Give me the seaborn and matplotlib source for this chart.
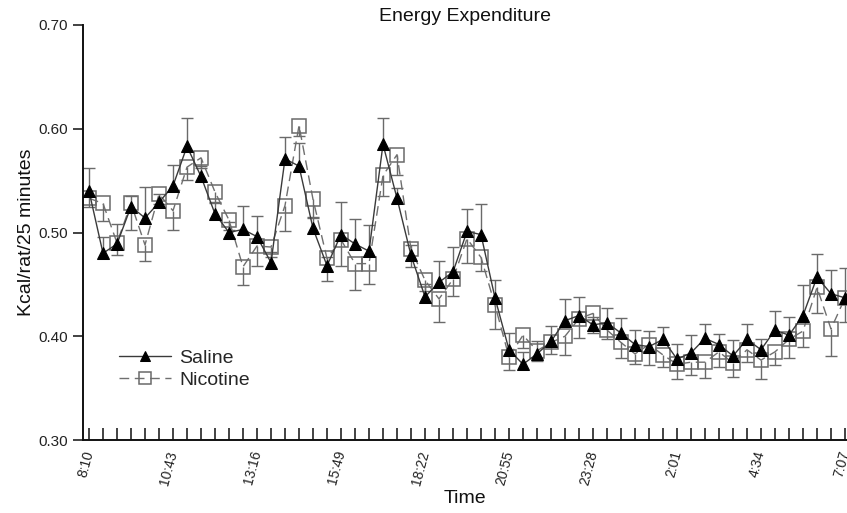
import numpy as np
import pandas as pd
import matplotlib
matplotlib.use("Agg")
import matplotlib.pyplot as plt
import seaborn as sns

# ---- data ----
time_labels = ['8:10', '10:43', '13:16', '15:49', '18:22', '20:55', '23:28', '2:01', '4:34', '7:07']

saline = [0.540, 0.480, 0.489, 0.525, 0.514, 0.529, 0.545, 0.583, 0.554, 0.518,
          0.500, 0.503, 0.496, 0.471, 0.571, 0.564, 0.504, 0.468, 0.498, 0.489,
          0.482, 0.585, 0.533, 0.478, 0.438, 0.452, 0.462, 0.501, 0.498, 0.437,
          0.387, 0.373, 0.383, 0.395, 0.415, 0.420, 0.411, 0.413, 0.403, 0.392,
          0.390, 0.397, 0.378, 0.384, 0.398, 0.392, 0.381, 0.397, 0.387, 0.406,
          0.401, 0.420, 0.457, 0.441, 0.437]
saline_err = [0.022, 0.016, 0.019, 0.010, 0.030, 0.008, 0.020, 0.027, 0.010, 0.010,
              0.010, 0.023, 0.020, 0.010, 0.021, 0.022, 0.010, 0.008, 0.031, 0.024,
              0.025, 0.025, 0.010, 0.010, 0.012, 0.021, 0.024, 0.022, 0.029, 0.017,
              0.016, 0.012, 0.012, 0.015, 0.021, 0.018, 0.008, 0.014, 0.015, 0.014,
              0.015, 0.012, 0.015, 0.017, 0.014, 0.010, 0.015, 0.015, 0.010, 0.018,
              0.018, 0.029, 0.022, 0.023, 0.029]

nicotine = [0.533, 0.528, 0.490, 0.528, 0.488, 0.537, 0.521, 0.563, 0.572, 0.539,
            0.512, 0.467, 0.487, 0.486, 0.526, 0.603, 0.532, 0.475, 0.493, 0.470,
            0.470, 0.555, 0.575, 0.484, 0.454, 0.436, 0.455, 0.494, 0.476, 0.430,
            0.380, 0.401, 0.386, 0.394, 0.400, 0.417, 0.422, 0.406, 0.394, 0.383,
            0.392, 0.382, 0.373, 0.375, 0.375, 0.385, 0.374, 0.387, 0.377, 0.385,
            0.397, 0.405, 0.447, 0.407, 0.437]
nicotine_err = [0.008, 0.017, 0.012, 0.026, 0.015, 0.010, 0.019, 0.012, 0.010, 0.010,
                0.010, 0.018, 0.019, 0.010, 0.025, 0.010, 0.017, 0.022, 0.025, 0.025,
                0.020, 0.020, 0.020, 0.017, 0.010, 0.022, 0.016, 0.023, 0.013, 0.023,
                0.013, 0.012, 0.010, 0.011, 0.018, 0.019, 0.019, 0.009, 0.015, 0.010,
                0.020, 0.012, 0.014, 0.012, 0.015, 0.015, 0.013, 0.012, 0.018, 0.013,
                0.018, 0.015, 0.025, 0.026, 0.023]

label_every = 6

# ---- plot ----
sns.set_theme(style="ticks")
plt.rcParams['font.family'] = ['Liberation Sans', 'DejaVu Sans']

W, H = 847, 513
fig = plt.figure(figsize=(W / 100, H / 100), dpi=100)
ax = fig.add_axes([83 / W, 1 - 440 / H, 764 / W, 415 / H])

idx = np.arange(len(saline))
df_s = pd.DataFrame({'t': idx, 'v': saline})
df_n = pd.DataFrame({'t': idx, 'v': nicotine})

# error bars (one-sided): saline up, nicotine down
zeros = np.zeros(len(idx))
eb_s = ax.errorbar(idx, saline, yerr=[zeros, saline_err], fmt='none', ecolor='#6a6a6a',
                   elinewidth=1.0, capsize=4.5, capthick=1.0, zorder=1)
eb_s[1][0].set_visible(False)
eb_n = ax.errorbar(idx, nicotine, yerr=[nicotine_err, zeros], fmt='none', ecolor='#6a6a6a',
                   elinewidth=1.0, capsize=4.5, capthick=1.0, zorder=1)
eb_n[1][1].set_visible(False)

sns.lineplot(data=df_n, x='t', y='v', ax=ax, color='#6f6f6f', lw=1.0,
             marker='s', markersize=9.5, markerfacecolor='none', markeredgecolor='#6a6a6a',
             markeredgewidth=1.1, dashes=(7, 4), zorder=2, label='Nicotine')
sns.lineplot(data=df_s, x='t', y='v', ax=ax, color='#3a3a3a', lw=1.0,
             marker='^', markersize=8.5, markerfacecolor='black', markeredgecolor='black',
             zorder=3, label='Saline')

ax.set_xlim(-6 / 14, (847 - 89) / 14)
ax.set_ylim(0.30, 0.70)
ax.set_yticks(np.arange(0.30, 0.701, 0.10))
ax.set_yticklabels([f"{v:.2f}" for v in np.arange(0.30, 0.701, 0.10)])

ax.set_xticks(idx)
xl = []
j = 0
for k in idx:
    if k % label_every == 0 and j < len(time_labels):
        xl.append(time_labels[j]); j += 1
    else:
        xl.append('')
ax.set_xticklabels(xl, rotation=75, ha='right', rotation_mode='anchor', va='center')

ax.tick_params(axis='x', direction='in', length=9, width=1.2, labelsize=10, pad=8, colors='#222222')
ax.tick_params(axis='y', direction='out', length=7, width=1.2, labelsize=11, pad=4, colors='#222222')

for s in ['top', 'right']:
    ax.spines[s].set_visible(False)
for s in ['left', 'bottom']:
    ax.spines[s].set_linewidth(1.4)
    ax.spines[s].set_color('#111111')

ax.set_title('Energy Expenditure', fontsize=14, pad=0, color='#111111')
ax.set_xlabel('Time', fontsize=14, labelpad=2, color='#111111')
ax.set_ylabel('Kcal/rat/25 minutes', fontsize=14, labelpad=2, color='#111111')

handles, labels = ax.get_legend_handles_labels()
order = [labels.index('Saline'), labels.index('Nicotine')]
ax.legend([handles[i] for i in order], [labels[i] for i in order],
          loc='upper left', bbox_to_anchor=(0.047, 0.218), frameon=False,
          fontsize=14, handlelength=2.7, labelspacing=0.22, borderpad=0,
          borderaxespad=0, handletextpad=0.4, markerscale=0.85)

fig.savefig('out.png', dpi=100)
